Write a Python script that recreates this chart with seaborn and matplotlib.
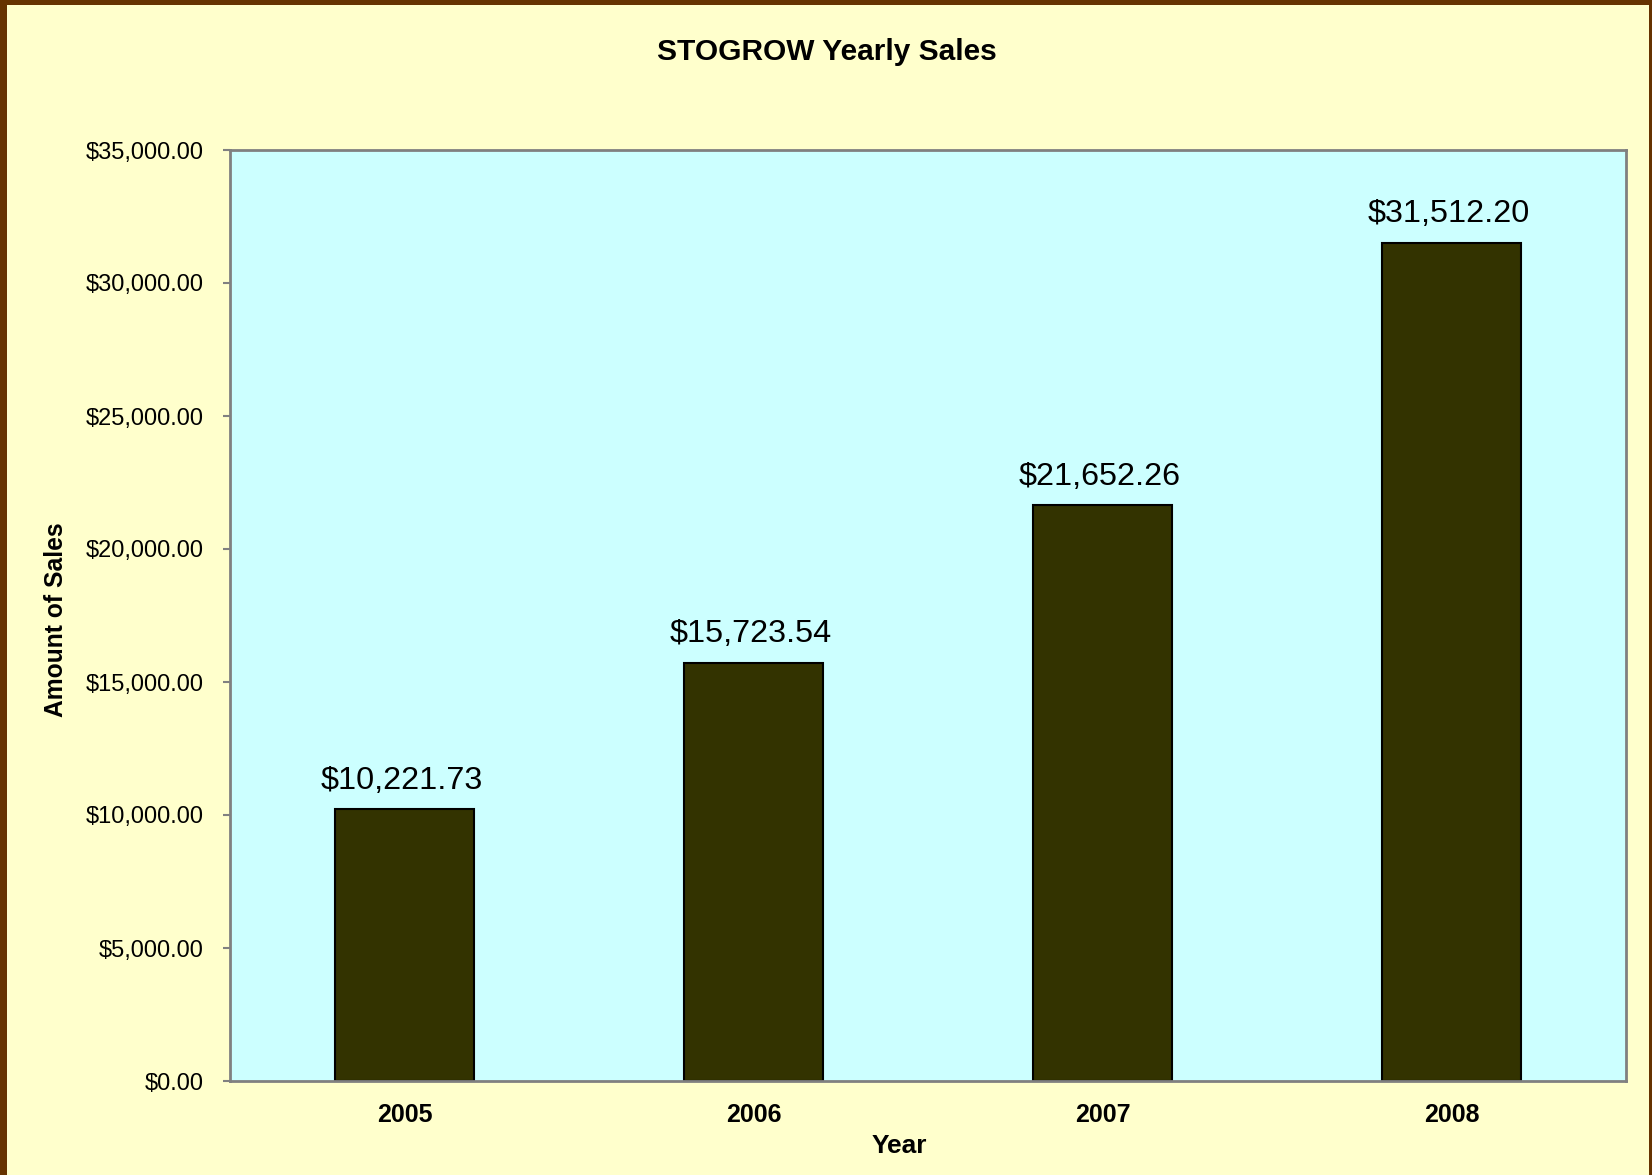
import numpy as np
import pandas as pd
import matplotlib
matplotlib.use("Agg")
import matplotlib.pyplot as plt
from matplotlib.patches import Rectangle
from matplotlib.ticker import FuncFormatter
import seaborn as sns

# data
years = ["2005", "2006", "2007", "2008"]
sales = [10221.73, 15723.54, 21652.26, 31512.20]
y_ticks = [0, 5000, 10000, 15000, 20000, 25000, 30000, 35000]

sns.set_theme(style="white")
plt.rcParams['font.family'] = ['Liberation Sans', 'DejaVu Sans']
plt.rcParams['text.color'] = 'black'
plt.rcParams['axes.labelcolor'] = 'black'
plt.rcParams['xtick.color'] = 'black'
plt.rcParams['ytick.color'] = 'black'

df = pd.DataFrame({"Year": years, "Sales": sales})

W, H = 1652, 1175
fig = plt.figure(figsize=(W / 100, H / 100), dpi=100)
fig.patch.set_facecolor("#663300")
# pale yellow page inside the brown frame (left, top, right edges)
fig.patches.append(Rectangle((7 / W, 0), (1649 - 7) / W, (H - 5) / H,
                             transform=fig.transFigure, facecolor="#FFFFCC",
                             edgecolor="none", zorder=-1))

ax = fig.add_axes([230 / W, 1 - 1081 / H, (1626 - 230) / W, (1081 - 150) / H])
ax.set_facecolor("#CCFFFF")

sns.barplot(data=df, x="Year", y="Sales", color="#333300", width=0.4,
            edgecolor="black", linewidth=1.5, saturation=1, ax=ax)

ax.set_ylim(0, 35000)
ax.set_yticks(y_ticks)
ax.yaxis.set_major_formatter(FuncFormatter(lambda v, p: "${:,.2f}".format(v)))
ax.tick_params(axis="y", which="both", left=True, length=5, width=1.5,
               color="#808080", labelcolor="black", labelsize=17, pad=14)
ax.tick_params(axis="x", bottom=False, labelcolor="black", labelsize=18, pad=10)
for lab in ax.get_xticklabels():
    lab.set_fontweight("bold")

for s in ax.spines.values():
    s.set_color("#808080")
    s.set_linewidth(2)

ax.set_xlabel("Year", fontsize=19, fontweight="bold", color="black")
ax.set_ylabel("Amount of Sales", fontsize=17.7, fontweight="bold", color="black")
ax.xaxis.set_label_coords((899 - 230) / (1626 - 230), (1081 - 1134) / (1081 - 150))
ax.yaxis.set_label_coords((68 - 230) / (1626 - 230), 0.496)

for i, v in enumerate(sales):
    ax.annotate("${:,.2f}".format(v), (i, v), xytext=(-2, 20.5),
                textcoords="offset points", ha="center", va="center",
                fontsize=23.3, color="black")

fig.text(827 / W, 1 - 52 / H, "STOGROW Yearly Sales", ha="center",
         va="center", fontsize=21.5, fontweight="bold", color="black")

fig.savefig("out.png", dpi=100, facecolor=fig.get_facecolor())
